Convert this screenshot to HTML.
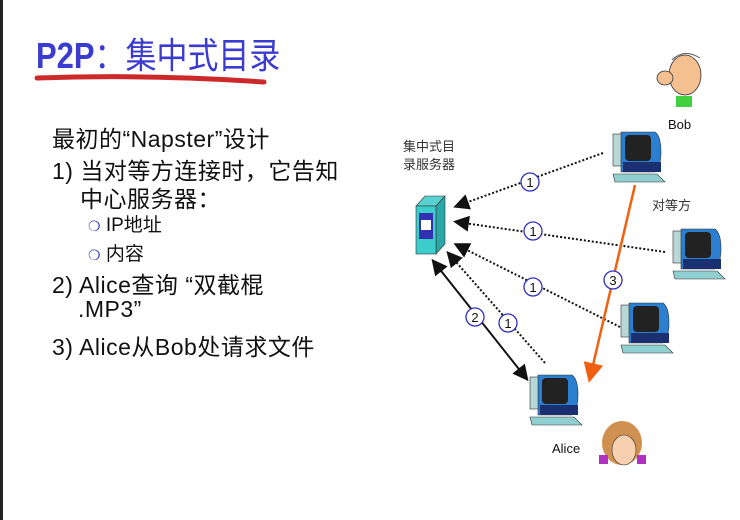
<!DOCTYPE html>
<html><head><meta charset="utf-8"><style>
body{margin:0;width:740px;height:520px;background:#fff;position:relative;overflow:hidden;font-family:"Liberation Sans","Noto Sans CJK SC",sans-serif}
.t{position:absolute;white-space:nowrap;color:#111}
.b{font-size:23px;letter-spacing:0.5px}
</style></head><body>
<div style="position:absolute;left:0;top:0;width:3px;height:520px;background:#222"></div>
<div class="t" style="left:36px;top:27px;font-size:36px;color:#3b3bd0;transform:scaleX(0.86);transform-origin:left"><b>P2P</b>：集中式目录</div>
<svg style="position:absolute;left:0;top:0" width="740" height="520">
<path d="M37 78 Q150 74 264 82" stroke="#cc2a2a" stroke-width="5" fill="none" stroke-linecap="round"/>
<defs>
<g id="pc">
<rect x="0" y="4" width="9" height="32" fill="#b8d8d8" stroke="#333" stroke-width="0.6"/>
<path d="M8 2 h34 q6 4 6 20 q0 14-6 20 h-34z" fill="#2a7fd0" stroke="#333" stroke-width="0.6"/>
<rect x="12" y="5" width="26" height="26" rx="4" fill="#222"/>
<rect x="10" y="32" width="38" height="10" fill="#1a3070"/>
<path d="M0 44 h44 l8 8 h-50z" fill="#8fcfcf" stroke="#333" stroke-width="0.6"/>
</g>
<marker id="a" markerWidth="8" markerHeight="8" refX="6" refY="4" orient="auto"><path d="M0 0 L8 4 L0 8z" fill="#111"/></marker>
<marker id="b" markerWidth="8" markerHeight="8" refX="2" refY="4" orient="auto"><path d="M8 0 L0 4 L8 8z" fill="#111"/></marker>
<marker id="o" markerWidth="8" markerHeight="8" refX="6" refY="4" orient="auto"><path d="M0 0 L8 4 L0 8z" fill="#f06010"/></marker>
</defs>
<path d="M416 206 l9 -10 h20 l-9 10z" fill="#5ad0d0" stroke="#333" stroke-width="0.6"/>
<path d="M436 206 l9 -10 v48 l-9 10z" fill="#2aa8a8" stroke="#333" stroke-width="0.6"/>
<rect x="416" y="206" width="20" height="48" fill="#3ccccc" stroke="#333" stroke-width="0.6"/>
<rect x="419" y="213" width="14" height="26" fill="#3030b0"/>
<rect x="421" y="220" width="10" height="10" fill="#fff"/>
<use href="#pc" x="613" y="130"/>
<use href="#pc" x="673" y="227"/>
<use href="#pc" x="621" y="301"/>
<use href="#pc" x="530" y="373"/>
<g stroke="#111" stroke-width="2" stroke-dasharray="2 2" fill="none">
<line x1="603" y1="153" x2="457" y2="206" marker-end="url(#a)"/>
<line x1="665" y1="252" x2="457" y2="222" marker-end="url(#a)"/>
<line x1="620" y1="327" x2="457" y2="245" marker-end="url(#a)"/>
<line x1="545" y1="363" x2="449" y2="254" marker-end="url(#a)"/>
</g>
<line x1="434" y1="262" x2="526" y2="378" stroke="#111" stroke-width="2" marker-end="url(#a)" marker-start="url(#b)"/>
<line x1="635" y1="185" x2="590" y2="378" stroke="#f06010" stroke-width="2.5" marker-end="url(#o)"/>
<g fill="#fff" stroke="#3030c0" stroke-width="1.3">
<circle cx="530" cy="182" r="9"/><circle cx="533" cy="231" r="9"/><circle cx="533" cy="287" r="9"/>
<circle cx="508" cy="323" r="9"/><circle cx="475" cy="317" r="9"/><circle cx="613" cy="280" r="9"/>
</g>
<g fill="#111" font-size="13" font-family="Liberation Sans" text-anchor="middle">
<text x="530" y="187">1</text><text x="533" y="236">1</text><text x="533" y="292">1</text>
<text x="508" y="328">1</text><text x="475" y="322">2</text><text x="613" y="285">3</text>
</g>
<ellipse cx="685" cy="75" rx="16" ry="20" fill="#f5c090" stroke="#333" stroke-width="0.8"/>
<ellipse cx="665" cy="78" rx="8" ry="7" fill="#f5c090" stroke="#333" stroke-width="0.8"/>
<path d="M672 60 q12 -12 28 -2" stroke="#555" stroke-width="1" fill="none"/>
<rect x="676" y="96" width="16" height="11" fill="#40d040"/>
<ellipse cx="622" cy="443" rx="20" ry="22" fill="#d09050"/>
<ellipse cx="624" cy="450" rx="12" ry="15" fill="#f8d0b0" stroke="#333" stroke-width="0.6"/>
<rect x="599" y="455" width="9" height="9" fill="#b030c0"/><rect x="637" y="455" width="9" height="9" fill="#b030c0"/>
</svg>
<div class="t" style="left:668px;top:117px;font-size:13px">Bob</div>
<div class="t" style="left:552px;top:441px;font-size:13px">Alice</div>
<div class="t" style="left:652px;top:195px;font-size:13px;color:#333">对等方</div>
<div class="t" style="left:403px;top:138px;font-size:13px;line-height:18px;color:#333">集中式目<br>录服务器</div>
<div class="t b" style="left:52px;top:120px">最初的“Napster”设计</div>
<div class="t b" style="left:52px;top:152px">1) 当对等方连接时，它告知</div>
<div class="t b" style="left:80px;top:180px">中心服务器：</div>
<div class="t" style="left:88px;top:210px;font-size:19px"><span style="color:#4040c0;font-size:14px">❍</span> IP地址</div>
<div class="t" style="left:88px;top:239px;font-size:19px"><span style="color:#4040c0;font-size:14px">❍</span> 内容</div>
<div class="t b" style="left:52px;top:266px">2) Alice查询 “双截棍</div>
<div class="t b" style="left:78px;top:296px">.MP3”</div>
<div class="t b" style="left:52px;top:328px">3) Alice从Bob处请求文件</div>
</body></html>
